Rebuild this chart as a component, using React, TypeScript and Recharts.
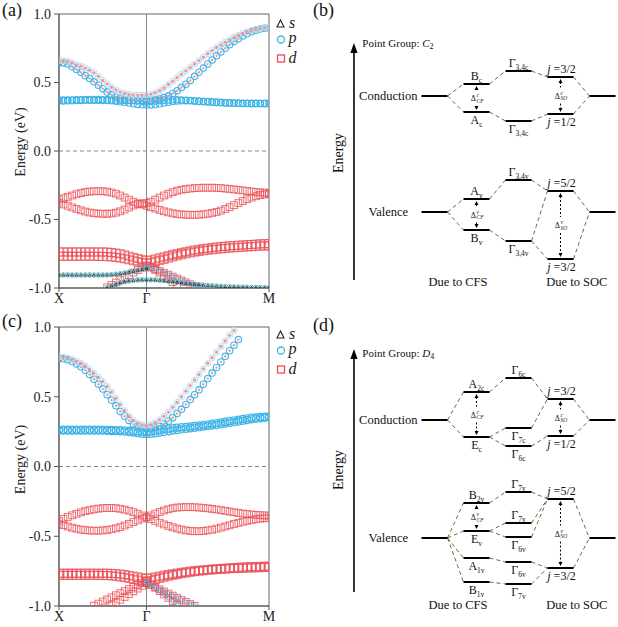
import React from 'react';
import { ScatterChart, ComposedChart, Scatter, XAxis, YAxis, ReferenceLine, ReferenceArea } from 'recharts';

const FONT = 'Liberation Serif, DejaVu Serif, serif';
const BLUE = '#3fb4e6';
const RED = '#ec4c54';
const PINK = '#f1959a';
const GREEN = '#55783a';

// ---------- band structure: k path X -> Γ -> M sampled every 0.05 ----------
const K_STEP = 0.05;
const K_TICKS = [0, 1, 2.4];
const K_TICK_LABELS = ['X', 'Γ', 'M'];
const E_TICKS = [-1, -0.5, 0, 0.5, 1];
const gap = (n: number) => new Array(n).fill(null);

// panel (a)
const A_P1 = [0.365,0.365,0.366,0.367,0.368,0.369,0.37,0.37,0.37,0.37,0.369,0.368,0.366,0.363,0.359,0.355,0.35,0.345,0.34,0.337,0.335,
  0.336,0.339,0.344,0.35,0.356,0.361,0.365,0.367,0.367,0.366,0.364,0.362,0.36,0.358,0.356,0.354,0.352,0.35,0.349,0.348,0.347,0.346,0.346,0.345,0.345,0.345,0.345,0.345];
const A_P2 = [0.372,0.372,0.372,0.373,0.374,0.375,0.376,0.376,0.376,0.376,0.375,0.374,0.373,0.372,0.371,0.37,0.369,0.368,0.366,0.364,0.362,
  0.363,0.365,0.368,0.371,0.373,0.374,0.374,0.373,0.371,0.369,0.367,0.365,0.363,0.361,0.359,0.357,0.355,0.353,0.352,0.351,0.35,0.349,0.349,0.348,0.348,0.348,0.348,0.348];
const A_U = [0.66,0.66,0.655,0.645,0.63,0.62,0.605,0.59,0.57,0.545,0.515,0.49,0.465,0.445,0.43,0.42,0.413,0.41,0.408,0.408,0.41,
  0.415,0.425,0.44,0.46,0.485,0.51,0.535,0.56,0.585,0.61,0.635,0.66,0.685,0.71,0.733,0.755,0.775,0.795,0.813,0.83,0.845,0.858,0.87,0.88,0.888,0.895,0.9,0.905];
const A_L = [0.645,0.643,0.635,0.615,0.595,0.575,0.55,0.53,0.505,0.48,0.455,0.43,0.41,0.395,0.385,0.378,0.373,0.37,0.37,0.37,0.37,
  0.371,0.374,0.38,0.39,0.403,0.42,0.44,0.463,0.488,0.515,0.545,0.575,0.605,0.635,0.665,0.695,0.723,0.75,0.776,0.8,0.82,0.84,0.856,0.87,0.881,0.89,0.896,0.9];
const A_V1 = [-0.355,-0.345,-0.335,-0.325,-0.315,-0.307,-0.3,-0.296,-0.294,-0.293,-0.294,-0.297,-0.303,-0.312,-0.325,-0.34,-0.355,-0.37,-0.382,-0.39,-0.4,
  -0.41,-0.42,-0.43,-0.44,-0.448,-0.455,-0.46,-0.463,-0.465,-0.466,-0.466,-0.465,-0.462,-0.458,-0.452,-0.445,-0.435,-0.423,-0.41,-0.395,-0.38,-0.365,-0.352,-0.34,-0.33,-0.322,-0.317,-0.315];
const A_V2 = [-0.378,-0.39,-0.4,-0.412,-0.423,-0.433,-0.442,-0.449,-0.454,-0.457,-0.458,-0.458,-0.456,-0.45,-0.44,-0.427,-0.412,-0.398,-0.388,-0.383,-0.38,
  -0.37,-0.355,-0.34,-0.325,-0.312,-0.3,-0.29,-0.283,-0.278,-0.274,-0.271,-0.269,-0.268,-0.268,-0.268,-0.269,-0.271,-0.274,-0.277,-0.28,-0.284,-0.288,-0.292,-0.296,-0.299,-0.302,-0.304,-0.305];
const A_W1 = [-0.737,-0.737,-0.737,-0.737,-0.737,-0.737,-0.737,-0.737,-0.737,-0.737,-0.737,-0.738,-0.741,-0.745,-0.75,-0.758,-0.767,-0.776,-0.785,-0.793,-0.8,
  -0.795,-0.788,-0.78,-0.772,-0.764,-0.756,-0.749,-0.742,-0.735,-0.729,-0.723,-0.718,-0.713,-0.709,-0.705,-0.701,-0.698,-0.695,-0.692,-0.69,-0.688,-0.686,-0.684,-0.682,-0.68,-0.678,-0.677,-0.676];
const A_W2 = [-0.768,-0.768,-0.768,-0.768,-0.768,-0.768,-0.768,-0.768,-0.768,-0.769,-0.77,-0.771,-0.773,-0.776,-0.781,-0.787,-0.794,-0.801,-0.808,-0.814,-0.82,
  -0.815,-0.808,-0.8,-0.791,-0.782,-0.773,-0.765,-0.757,-0.75,-0.744,-0.738,-0.733,-0.728,-0.724,-0.72,-0.717,-0.714,-0.711,-0.708,-0.706,-0.704,-0.702,-0.7,-0.698,-0.696,-0.694,-0.693,-0.692];
const A_W3 = [...gap(11),-0.995,-0.978,-0.96,-0.942,-0.924,-0.906,-0.888,-0.87,-0.852,-0.835,
  -0.85,-0.868,-0.888,-0.91,-0.933,-0.957,-0.98,...gap(21)];
const A_W4 = [...gap(20),-0.84,
  -0.85,-0.862,-0.875,-0.888,-0.902,-0.916,-0.93,-0.944,-0.958,-0.972,-0.986,-0.998,...gap(16)];
const A_S1 = [-0.905,-0.905,-0.905,-0.905,-0.905,-0.905,-0.905,-0.905,-0.905,-0.905,-0.905,-0.905,-0.903,-0.9,-0.896,-0.891,-0.885,-0.878,-0.871,-0.864,-0.857,...gap(28)];
const A_S2 = [...gap(11),-0.998,-0.985,-0.972,-0.962,-0.954,-0.948,-0.944,-0.941,-0.94,-0.94,
  -0.94,-0.941,-0.943,-0.946,-0.95,-0.954,-0.958,-0.962,-0.966,-0.97,-0.973,-0.976,-0.979,-0.982,-0.984,-0.986,-0.988,-0.99,-0.991,-0.992,-0.993,-0.994,-0.995,-0.996,-0.996,-0.997,-0.997,-0.997];

// panel (c)
const C_F1 = [0.258,0.258,0.258,0.258,0.258,0.258,0.258,0.258,0.258,0.258,0.257,0.256,0.255,0.254,0.252,0.25,0.247,0.243,0.239,0.235,0.232,
  0.234,0.238,0.243,0.248,0.253,0.258,0.262,0.266,0.27,0.274,0.278,0.282,0.286,0.29,0.294,0.298,0.303,0.308,0.313,0.318,0.323,0.328,0.333,0.338,0.342,0.346,0.35,0.353];
const C_F2 = [0.263,0.263,0.263,0.263,0.263,0.263,0.263,0.263,0.263,0.263,0.263,0.262,0.262,0.261,0.26,0.259,0.257,0.254,0.251,0.248,0.246,
  0.25,0.256,0.262,0.267,0.271,0.275,0.278,0.281,0.284,0.287,0.29,0.294,0.298,0.302,0.306,0.311,0.316,0.321,0.326,0.331,0.336,0.341,0.345,0.349,0.352,0.355,0.357,0.358];
const C_U = [0.785,0.783,0.777,0.768,0.755,0.74,0.72,0.695,0.67,0.64,0.61,0.575,0.535,0.49,0.445,0.4,0.36,0.33,0.31,0.3,0.295,
  0.3,0.315,0.335,0.36,0.39,0.425,0.46,0.5,0.54,0.58,0.62,0.66,0.7,0.74,0.78,0.82,0.86,0.9,0.94,0.975,...gap(8)];
const C_L = [0.775,0.772,0.765,0.752,0.735,0.715,0.69,0.66,0.625,0.59,0.555,0.515,0.475,0.435,0.395,0.36,0.33,0.305,0.29,0.28,0.275,
  0.276,0.28,0.29,0.305,0.325,0.35,0.38,0.41,0.445,0.48,0.515,0.55,0.59,0.63,0.67,0.71,0.75,0.79,0.83,0.87,0.91,...gap(7)];
const C_V1 = [-0.39,-0.375,-0.362,-0.35,-0.339,-0.329,-0.32,-0.313,-0.307,-0.302,-0.299,-0.297,-0.297,-0.299,-0.303,-0.309,-0.317,-0.327,-0.339,-0.351,-0.364,
  -0.377,-0.39,-0.403,-0.415,-0.426,-0.436,-0.445,-0.452,-0.458,-0.462,-0.464,-0.464,-0.462,-0.458,-0.453,-0.446,-0.438,-0.43,-0.421,-0.412,-0.404,-0.396,-0.389,-0.383,-0.378,-0.374,-0.371,-0.37];
const C_V2 = [-0.41,-0.42,-0.43,-0.439,-0.446,-0.452,-0.456,-0.459,-0.46,-0.46,-0.458,-0.455,-0.45,-0.443,-0.434,-0.423,-0.411,-0.398,-0.386,-0.374,-0.364,
  -0.351,-0.338,-0.326,-0.315,-0.306,-0.299,-0.294,-0.292,-0.291,-0.291,-0.292,-0.294,-0.297,-0.3,-0.304,-0.308,-0.313,-0.318,-0.323,-0.328,-0.333,-0.337,-0.341,-0.344,-0.347,-0.349,-0.351,-0.352];
const C_W1 = [-0.765,-0.765,-0.765,-0.765,-0.765,-0.765,-0.765,-0.765,-0.765,-0.765,-0.765,-0.765,-0.766,-0.768,-0.771,-0.775,-0.78,-0.786,-0.792,-0.798,-0.803,
  -0.798,-0.792,-0.786,-0.78,-0.774,-0.769,-0.764,-0.759,-0.755,-0.751,-0.747,-0.744,-0.741,-0.738,-0.735,-0.733,-0.731,-0.729,-0.727,-0.725,-0.723,-0.721,-0.719,-0.718,-0.717,-0.716,-0.715,-0.714];
const C_W2 = [-0.78,-0.78,-0.78,-0.78,-0.78,-0.78,-0.78,-0.78,-0.78,-0.78,-0.781,-0.782,-0.784,-0.787,-0.791,-0.796,-0.802,-0.808,-0.814,-0.82,-0.825,
  -0.818,-0.81,-0.802,-0.794,-0.787,-0.78,-0.774,-0.768,-0.763,-0.758,-0.754,-0.75,-0.747,-0.744,-0.741,-0.739,-0.737,-0.735,-0.733,-0.731,-0.73,-0.729,-0.728,-0.727,-0.726,-0.725,-0.724,-0.723];
const C_D1 = [...gap(8),-0.998,-0.983,-0.968,-0.953,-0.938,-0.923,-0.908,-0.893,-0.878,-0.863,-0.849,-0.835,-0.822,...gap(28)];
const C_D2 = [...gap(12),-0.995,-0.975,-0.955,-0.935,-0.915,-0.895,-0.875,-0.855,-0.836,...gap(28)];
const C_D3 = [...gap(20),-0.822,-0.846,-0.87,-0.894,-0.918,-0.942,-0.966,-0.99,...gap(21)];
const C_D4 = [...gap(20),-0.836,-0.85,-0.865,-0.88,-0.895,-0.91,-0.925,-0.94,-0.955,-0.97,-0.985,-0.998,...gap(17)];

type Band = { values: (number | null)[]; kind: string };
const BANDS_A: Band[] = [
  { values: A_W1, kind: 'dL' }, { values: A_W2, kind: 'dL' }, { values: A_W3, kind: 'd' }, { values: A_W4, kind: 'dc' },
  { values: A_S1, kind: 's' }, { values: A_S2, kind: 's' },
  { values: A_V1, kind: 'd' }, { values: A_V2, kind: 'd' },
  { values: A_P1, kind: 'p' }, { values: A_P2, kind: 'p' }, { values: A_L, kind: 'pd' }, { values: A_U, kind: 'dp' },
];
const BANDS_C: Band[] = [
  { values: C_W1, kind: 'dL' }, { values: C_W2, kind: 'dL' }, { values: C_D1, kind: 'd' }, { values: C_D2, kind: 'd' },
  { values: C_D3, kind: 'dc' }, { values: C_D4, kind: 'dc' },
  { values: C_V1, kind: 'd' }, { values: C_V2, kind: 'd' },
  { values: C_F1, kind: 'pB' }, { values: C_F2, kind: 'pB' }, { values: C_L, kind: 'pd' }, { values: C_U, kind: 'dp' },
];

const toPoints = (values: (number | null)[]) =>
  values
    .map((e, i) => (e == null ? null : { k: Math.round(i * K_STEP * 100) / 100, e }))
    .filter((p) => p !== null) as { k: number; e: number }[];

const makeShape = (kind: string) => (p: any) => {
  const { cx, cy } = p;
  if (typeof cx !== 'number' || typeof cy !== 'number') return <g />;
  switch (kind) {
    case 'p':
      return <circle cx={cx} cy={cy} r={3.2} fill="none" stroke={BLUE} strokeWidth={1.1} />;
    case 'pB':
      return <circle cx={cx} cy={cy} r={3.6} fill="none" stroke={BLUE} strokeWidth={1.2} />;
    case 'pd':
      return (
        <g>
          <circle cx={cx} cy={cy} r={3.2} fill="none" stroke={BLUE} strokeWidth={1.1} />
          <circle cx={cx} cy={cy} r={1.2} fill={PINK} />
        </g>
      );
    case 'dp':
      return (
        <g>
          <circle cx={cx} cy={cy} r={3} fill="none" stroke="#b5e1f4" strokeWidth={1} />
          <circle cx={cx} cy={cy} r={1.7} fill={PINK} />
        </g>
      );
    case 'd':
      return <rect x={cx - 3.4} y={cy - 3.4} width={6.8} height={6.8} fill="none" stroke={RED} strokeWidth={1} strokeOpacity={0.8} />;
    case 'dL':
      return <rect x={cx - 4} y={cy - 4} width={8} height={8} fill="none" stroke={RED} strokeWidth={1} strokeOpacity={0.8} />;
    case 'dc':
      return (
        <g>
          <rect x={cx - 3.3} y={cy - 3.3} width={6.6} height={6.6} fill="none" stroke={RED} strokeWidth={1} strokeOpacity={0.8} />
          <circle cx={cx} cy={cy} r={1.9} fill="none" stroke={BLUE} strokeWidth={0.9} />
        </g>
      );
    case 's':
      return (
        <g>
          <circle cx={cx} cy={cy} r={2.3} fill="none" stroke="#4fb9c9" strokeWidth={0.9} />
          <path d={`M${cx - 1.4},${cy + 1} L${cx + 1.4},${cy + 1} L${cx},${cy - 1.4} Z`} fill="none" stroke="#222" strokeWidth={0.8} />
        </g>
      );
    default:
      return <g />;
  }
};

const EnergyTitle = (props: any) => {
  const vb = props.viewBox || {};
  const x = (vb.x ?? 14) + 6;
  const y = (vb.y ?? 0) + (vb.height ?? 0) / 2 + (props.shift ?? 0);
  return (
    <text x={x} y={y} transform={`rotate(-90 ${x} ${y})`} textAnchor="middle" dominantBaseline="central" fontSize={14} fontFamily={FONT} fill="#222">
      Energy (eV)
    </text>
  );
};

const BandPanel = ({ bands, height, top, shift }: { bands: Band[]; height: number; top: number; shift: number }) => (
  <ScatterChart width={300} height={height} margin={{ top, right: 31, bottom: 0, left: 14 }}>
    <XAxis
      type="number" dataKey="k" domain={[0, 2.4]} ticks={K_TICKS} interval={0} allowDataOverflow
      tickFormatter={(v: number) => K_TICK_LABELS[K_TICKS.indexOf(v)] ?? ''}
      height={height - top - (height === 310 ? 274 : 279)} tickSize={4} tickMargin={1}
      axisLine={{ stroke: '#555' }} tickLine={{ stroke: '#555' }}
      tick={{ fill: '#222', fontSize: 14, fontFamily: FONT }}
    />
    <YAxis
      type="number" dataKey="e" domain={[-1, 1]} ticks={E_TICKS} interval={0} allowDataOverflow
      tickFormatter={(v: number) => v.toFixed(1)} width={45} tickSize={5} tickMargin={3}
      axisLine={{ stroke: '#555' }} tickLine={{ stroke: '#555' }}
      tick={{ fill: '#222', fontSize: 14, fontFamily: FONT }}
      label={<EnergyTitle shift={shift} />}
    />
    <ReferenceArea x1={0} x2={2.4} y1={-1} y2={1} fill="none" fillOpacity={0} stroke="#666" strokeWidth={1} ifOverflow="visible" />
    <ReferenceLine y={0} stroke="#888" strokeDasharray="4 3" />
    <ReferenceLine x={1} stroke="#888" />
    {bands.map((b, i) => (
      <Scatter key={i} data={toPoints(b.values)} shape={makeShape(b.kind)} isAnimationActive={false} />
    ))}
  </ScatterChart>
);

// ---------- energy level diagrams: columns 0 (bulk) 1 (CFS) 2 (Γ) 3 (SOC) 4 (bulk), energy in arb. units ----------
type Level = { id: string; col: number; e: number; label?: string; pos?: 'above' | 'below' };
type Delta = { col: number; top: number; bottom: number; mid: number; sup: string; sub: string };

const B_LEVELS: Level[] = [
  { id: 'cL', col: 0, e: 21.4 },
  { id: 'Bc', col: 1, e: 22.6, label: 'B_c', pos: 'above' },
  { id: 'Ac', col: 1, e: 19.8, label: 'A_c', pos: 'below' },
  { id: 'G1c', col: 2, e: 23.9, label: 'Γ_3,4c', pos: 'above' },
  { id: 'G2c', col: 2, e: 18.9, label: 'Γ_3,4c', pos: 'below' },
  { id: 'j1c', col: 3, e: 23.3, label: 'j =3/2', pos: 'above' },
  { id: 'j2c', col: 3, e: 19.6, label: 'j =1/2', pos: 'below' },
  { id: 'cR', col: 4, e: 21.4 },
  { id: 'vL', col: 0, e: 9.8 },
  { id: 'Av', col: 1, e: 11.1, label: 'A_v', pos: 'above' },
  { id: 'Bv', col: 1, e: 8.0, label: 'B_v', pos: 'below' },
  { id: 'G1v', col: 2, e: 13.0, label: 'Γ_3,4v', pos: 'above' },
  { id: 'G2v', col: 2, e: 6.9, label: 'Γ_3,4v', pos: 'below' },
  { id: 'j1v', col: 3, e: 11.9, label: 'j =5/2', pos: 'above' },
  { id: 'j2v', col: 3, e: 5.1, label: 'j =3/2', pos: 'below' },
  { id: 'vR', col: 4, e: 9.8 },
];
const B_LINKS = [
  ['cL', 'Bc'], ['cL', 'Ac'], ['Bc', 'G1c'], ['Ac', 'G2c'], ['G1c', 'j1c'], ['G2c', 'j2c'], ['j1c', 'cR'], ['j2c', 'cR'],
  ['vL', 'Av'], ['vL', 'Bv'], ['Av', 'G1v'], ['Bv', 'G2v'], ['G1v', 'j1v'], ['G2v', 'j1v'], ['G2v', 'j2v'], ['j1v', 'vR'], ['j2v', 'vR'],
];
const B_DELTAS: Delta[] = [
  { col: 1, top: 22.6, bottom: 19.8, mid: 21.2, sup: 'c', sub: 'CF' },
  { col: 3, top: 23.3, bottom: 19.6, mid: 21.45, sup: 'c', sub: 'SO' },
  { col: 1, top: 11.1, bottom: 8.0, mid: 9.55, sup: 'v', sub: 'CF' },
  { col: 3, top: 11.9, bottom: 5.1, mid: 8.5, sup: 'v', sub: 'SO' },
];

const D_LEVELS: Level[] = [
  { id: 'cL', col: 0, e: 20.0 },
  { id: 'A2c', col: 1, e: 22.8, label: 'A_2c', pos: 'above' },
  { id: 'Ec', col: 1, e: 18.3, label: 'E_c', pos: 'below' },
  { id: 'G6c1', col: 2, e: 24.2, label: 'Γ_6c', pos: 'above' },
  { id: 'G7c', col: 2, e: 19.2, label: 'Γ_7c', pos: 'below' },
  { id: 'G6c2', col: 2, e: 17.4, label: 'Γ_6c', pos: 'below' },
  { id: 'j1c', col: 3, e: 22.1, label: 'j =3/2', pos: 'above' },
  { id: 'j2c', col: 3, e: 18.4, label: 'j =1/2', pos: 'below' },
  { id: 'cR', col: 4, e: 20.0 },
  { id: 'vL', col: 0, e: 8.2 },
  { id: 'B2v', col: 1, e: 11.7, label: 'B_2v', pos: 'above' },
  { id: 'Ev', col: 1, e: 8.9, label: 'E_v', pos: 'below' },
  { id: 'A1v', col: 1, e: 6.2, label: 'A_1v', pos: 'below' },
  { id: 'B1v', col: 1, e: 3.8, label: 'B_1v', pos: 'below' },
  { id: 'G7v1', col: 2, e: 12.8, label: 'Γ_7v', pos: 'above' },
  { id: 'G7v2', col: 2, e: 9.7, label: 'Γ_7v', pos: 'above' },
  { id: 'G6v1', col: 2, e: 8.3, label: 'Γ_6v', pos: 'below' },
  { id: 'G6v2', col: 2, e: 5.8, label: 'Γ_6v', pos: 'below' },
  { id: 'G7v3', col: 2, e: 3.6, label: 'Γ_7v', pos: 'below' },
  { id: 'j1v', col: 3, e: 12.1, label: 'j =5/2', pos: 'above' },
  { id: 'j2v', col: 3, e: 5.2, label: 'j =3/2', pos: 'below' },
  { id: 'vR', col: 4, e: 8.2 },
];
const D_LINKS = [
  ['cL', 'A2c'], ['cL', 'Ec'], ['A2c', 'G6c1'], ['Ec', 'G7c'], ['Ec', 'G6c2'], ['G6c1', 'j1c'], ['G7c', 'j1c'], ['G6c2', 'j2c'], ['j1c', 'cR'], ['j2c', 'cR'],
  ['vL', 'B2v'], ['vL', 'Ev'], ['vL', 'A1v'], ['vL', 'B1v'], ['B2v', 'G7v1'], ['Ev', 'G7v2'], ['Ev', 'G6v1'], ['A1v', 'G6v2'], ['B1v', 'G7v3'],
  ['G7v1', 'j1v'], ['G7v2', 'j1v'], ['G6v1', 'j1v'], ['G6v2', 'j2v'], ['G7v3', 'j2v'], ['j1v', 'vR'], ['j2v', 'vR'],
];
const D_DELTAS: Delta[] = [
  { col: 1, top: 22.8, bottom: 18.3, mid: 20.55, sup: 'c', sub: 'CF' },
  { col: 3, top: 22.1, bottom: 18.4, mid: 20.25, sup: 'c', sub: 'SO' },
  { col: 1, top: 11.7, bottom: 8.9, mid: 10.3, sup: 'v', sub: 'CF' },
  { col: 3, top: 12.1, bottom: 5.2, mid: 8.65, sup: 'v', sub: 'SO' },
];

const HALF = 0.31;
const AXIS_COL = -1.917;
const SIDE_COL = -1.1;
const FOOT_COLS = [0.56, 3.39];
const FOOT_TEXT = ['Due to CFS', 'Due to SOC'];

const LevelText = (p: any) => {
  const { cx, cy } = p;
  const d = p.payload || p;
  if (typeof cx !== 'number') return <g />;
  const y = d.pos === 'above' ? cy - 4 : cy + 12;
  if (d.text.startsWith('j')) {
    return (
      <text x={cx + 1} y={y} textAnchor="middle" fontSize={12} fontFamily={FONT} fill="#111">
        <tspan fontStyle="italic">j</tspan>{d.text.slice(1)}
      </text>
    );
  }
  const [base, sub] = d.text.split('_');
  return (
    <text x={cx} y={y} textAnchor="middle" fontSize={12} fontFamily={FONT} fill="#111">
      {base}
      <tspan fontSize={7.5} dy={2.5}>{sub}</tspan>
    </text>
  );
};

const DeltaText = (p: any) => {
  const { cx, cy } = p;
  const d = p.payload || p;
  if (typeof cx !== 'number') return <g />;
  return (
    <g fontFamily={FONT} fill="#111">
      <text x={cx - 0.5} y={cy + 3} textAnchor="end" fontSize={8}>Δ</text>
      <text x={cx} y={cy - 0.8} fontSize={5.5} fontStyle="italic">{d.sup}</text>
      <text x={cx} y={cy + 4.8} fontSize={5.5} fontStyle="italic">{d.sub}</text>
    </g>
  );
};

const ArrowHead = (p: any) => {
  const { cx, cy } = p;
  const d = p.payload || p;
  if (typeof cx !== 'number') return <g />;
  const w = d.big ? 3.6 : 2;
  const h = d.big ? 10 : 4;
  const s = d.dir === 'up' ? 1 : -1;
  return <path d={`M${cx},${cy} L${cx - w},${cy + s * h} L${cx + w},${cy + s * h} Z`} fill="#000" />;
};

const PlainText = (p: any) => {
  const { cx, cy } = p;
  const d = p.payload || p;
  if (typeof cx !== 'number') return <g />;
  const tr = d.rotate ? `rotate(-90 ${cx} ${cy})` : undefined;
  return (
    <text x={cx} y={cy} transform={tr} textAnchor={d.anchor || 'middle'} dominantBaseline="central" fontSize={d.size || 12.5} fontFamily={FONT} fill="#111">
      {d.text}
    </text>
  );
};

const GroupTitle = (p: any) => {
  const { cx, cy } = p;
  const d = p.payload || p;
  if (typeof cx !== 'number') return <g />;
  return (
    <text x={cx} y={cy} dominantBaseline="central" fontSize={11} fontFamily={FONT} fill="#111">
      {'Point Group: '}
      <tspan fontStyle="italic">{d.g}</tspan>
      <tspan fontSize={8} dy={3}>{d.n}</tspan>
    </text>
  );
};

type DiagramProps = {
  levels: Level[]; links: string[][]; deltas: Delta[]; height: number; yMin: number;
  arrow: [number, number]; energyE: number; footE: number; group: [string, string]; titleE: number;
};

const Diagram = ({ levels, links, deltas, height, yMin, arrow, energyE, footE, group, titleE }: DiagramProps) => {
  const byId: Record<string, Level> = Object.fromEntries(levels.map((l) => [l.id, l]));
  const cond = levels.find((l) => l.id === 'cL')!;
  const val = levels.find((l) => l.id === 'vL')!;
  const labels = levels.filter((l) => l.label).map((l) => ({ x: l.col, y: l.e, text: l.label, pos: l.pos }));
  const deltaPts = deltas.map((d) => ({ x: d.col, y: d.mid, sup: d.sup, sub: d.sub }));
  const heads = [
    ...deltas.flatMap((d) => [
      { x: d.col, y: d.top - 0.2, dir: 'up' },
      { x: d.col, y: d.bottom + 0.2, dir: 'down' },
    ]),
    { x: AXIS_COL, y: arrow[1], dir: 'up', big: true },
  ];
  const texts = [
    { x: SIDE_COL, y: cond.e, text: 'Conduction' },
    { x: SIDE_COL, y: val.e, text: 'Valence' },
    { x: FOOT_COLS[0], y: footE, text: FOOT_TEXT[0] },
    { x: FOOT_COLS[1], y: footE, text: FOOT_TEXT[1] },
    { x: AXIS_COL - 0.36, y: energyE, text: 'Energy', rotate: true, size: 14 },
  ];
  return (
    <ComposedChart width={318} height={height} margin={{ top: 0, right: 0, bottom: 0, left: 0 }}>
      <XAxis type="number" dataKey="x" domain={[-3.202, 4.369]} hide allowDataOverflow />
      <YAxis type="number" dataKey="y" domain={[yMin, 31]} hide allowDataOverflow />
      {links.map(([a, b], i) => (
        <ReferenceLine key={'lk' + i} ifOverflow="visible"
          segment={[{ x: byId[a].col + HALF, y: byId[a].e }, { x: byId[b].col - HALF, y: byId[b].e }]}
          stroke={GREEN} strokeDasharray="4 3" strokeWidth={1} />
      ))}
      {levels.map((l) => (
        <ReferenceLine key={'lv' + l.id} ifOverflow="visible"
          segment={[{ x: l.col - HALF, y: l.e }, { x: l.col + HALF, y: l.e }]} stroke="#000" strokeWidth={2} />
      ))}
      {deltas.flatMap((d, i) => [
        <ReferenceLine key={'da' + i} ifOverflow="visible" segment={[{ x: d.col, y: d.top - 0.5 }, { x: d.col, y: d.mid + 0.8 }]} stroke="#000" strokeDasharray="2 2" strokeWidth={1} />,
        <ReferenceLine key={'db' + i} ifOverflow="visible" segment={[{ x: d.col, y: d.mid - 0.8 }, { x: d.col, y: d.bottom + 0.5 }]} stroke="#000" strokeDasharray="2 2" strokeWidth={1} />,
      ])}
      <ReferenceLine ifOverflow="visible" segment={[{ x: AXIS_COL, y: arrow[0] }, { x: AXIS_COL, y: arrow[1] - 0.8 }]} stroke="#000" strokeWidth={1.6} />
      <Scatter data={heads} shape={ArrowHead} isAnimationActive={false} />
      <Scatter data={labels} shape={LevelText} isAnimationActive={false} />
      <Scatter data={deltaPts} shape={DeltaText} isAnimationActive={false} />
      <Scatter data={texts} shape={PlainText} isAnimationActive={false} />
      <Scatter data={[{ x: AXIS_COL + 0.2, y: titleE, g: group[0], n: group[1] }]} shape={GroupTitle} isAnimationActive={false} />
    </ComposedChart>
  );
};

const LegendBox = ({ top }: { top: number }) => (
  <g transform={`translate(0 ${top})`} fontFamily={FONT}>
    <path d="M277,27 L284,27 L280.5,20 Z" fill="none" stroke="#222" strokeWidth={1.1} />
    <text x={289} y={27.5} fontSize={16} fontStyle="italic" fill="#222">s</text>
    <circle cx={281} cy={39.5} r={3.5} fill="none" stroke={BLUE} strokeWidth={1.3} />
    <text x={288.5} y={43} fontSize={16} fontStyle="italic" fill="#222">p</text>
    <rect x={277.5} y={55} width={7} height={7} fill="none" stroke={RED} strokeWidth={1.3} />
    <text x={288.5} y={62.5} fontSize={16} fontStyle="italic" fill="#222">d</text>
  </g>
);

export default function App() {
  return (
    <div style={{ position: 'absolute', left: 0, top: 0, width: 618, height: 627, background: '#fff', overflow: 'hidden', fontFamily: FONT }}>
      <div style={{ position: 'absolute', left: 0, top: 0 }}>
        <BandPanel bands={BANDS_A} height={310} top={14} shift={-9} />
      </div>
      <div style={{ position: 'absolute', left: 0, top: 310 }}>
        <BandPanel bands={BANDS_C} height={317} top={17} shift={-7} />
      </div>
      <div style={{ position: 'absolute', left: 300, top: 0 }}>
        <Diagram levels={B_LEVELS} links={B_LINKS} deltas={B_DELTAS} height={310} yMin={0}
          arrow={[3.0, 26.7]} energyE={15.7} footE={2.8} group={['C', '2']} titleE={26.7} />
      </div>
      <div style={{ position: 'absolute', left: 300, top: 310 }}>
        <Diagram levels={D_LEVELS} links={D_LINKS} deltas={D_DELTAS} height={317} yMin={-0.7}
          arrow={[2.8, 27.1]} energyE={15.0} footE={1.5} group={['D', '4']} titleE={26.7} />
      </div>
      <svg width={618} height={627} style={{ position: 'absolute', left: 0, top: 0, pointerEvents: 'none' }}>
        <g fontFamily={FONT} fontSize={18} fill="#111">
          <text x={2} y={16}>(a)</text>
          <text x={313} y={16}>(b)</text>
          <text x={2} y={327}>(c)</text>
          <text x={313} y={331}>(d)</text>
        </g>
        <LegendBox top={0} />
        <LegendBox top={311} />
      </svg>
    </div>
  );
}
